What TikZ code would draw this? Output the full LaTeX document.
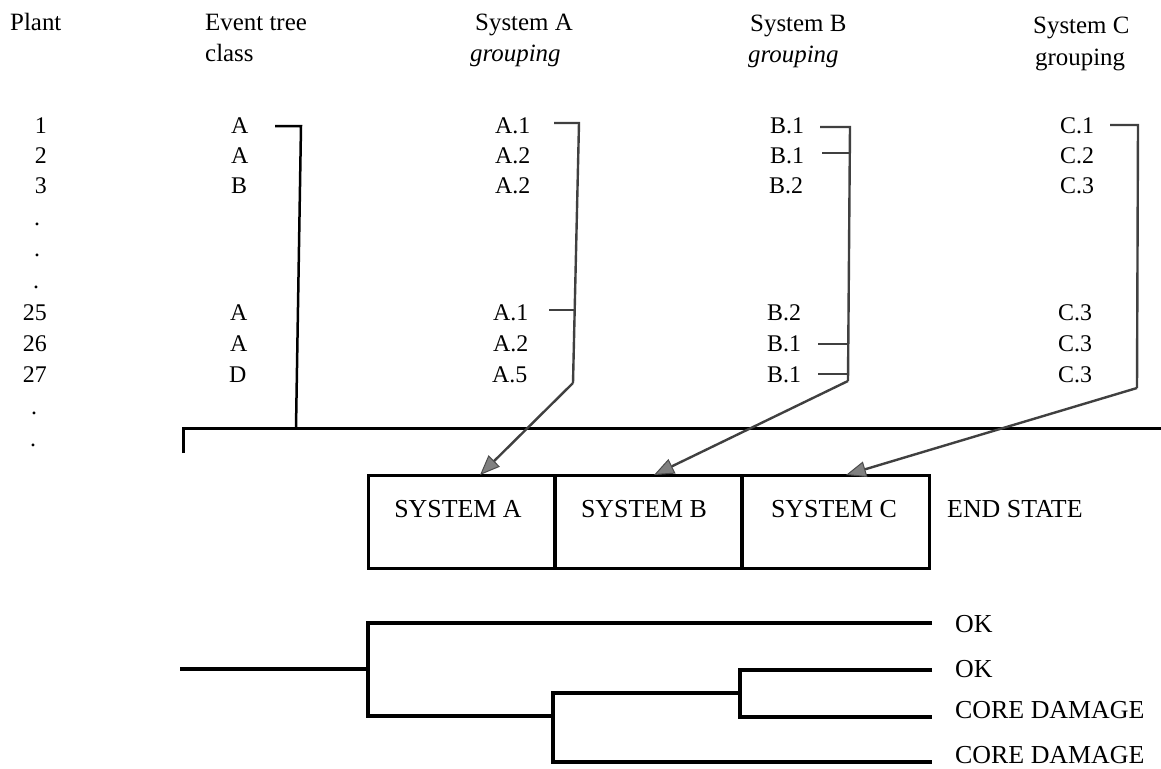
\documentclass[tikz,border=0pt]{standalone}
\usepackage{fontspec}
\setmainfont{Liberation Serif}
\usetikzlibrary{arrows.meta}
\begin{document}
\begin{tikzpicture}[x=1bp,y=-1bp,
  hd/.style={inner sep=0pt,anchor=base west,font=\fontsize{25}{29}\selectfont},
  num/.style={inner sep=0pt,anchor=base east,font=\fontsize{24}{28}\selectfont},
  cell/.style={inner sep=0pt,anchor=base west,font=\fontsize{24}{28}\selectfont},
  dotl/.style={inner sep=0pt,anchor=base,font=\fontsize{24}{28}\selectfont},
  sysbox/.style={draw,line width=3bp,minimum width=187bp,minimum height=93bp,inner sep=0pt},
  boxtxt/.style={inner sep=0pt,anchor=base,font=\fontsize{26}{30}\selectfont},
  endtxt/.style={inner sep=0pt,anchor=base west,font=\fontsize{26}{30}\selectfont},
  solidln/.style={line width=3bp,black},
  grp/.style={line width=2.4bp,black!75},
  grparrow/.style={grp,-{Triangle[length=20bp,width=16bp,fill=black!50,color=black!70,line width=1bp]}},
  treeln/.style={line width=3.2bp,black,line join=miter}]
\useasboundingbox (0,0) rectangle (1161,769);

% headers
\node[hd] (hplant) at (10,31) {Plant};
\node[hd] (hev1) at (205,31) {Event tree};
\node[hd] (hev2) at (205,62) {class};
\node[hd] (hsa1) at (475,31) {System A};
\node[hd] (hsa2) at (470,62) {\itshape grouping};
\node[hd] (hsb1) at (750,32) {System B};
\node[hd] (hsb2) at (748,63) {\itshape grouping};
\node[hd] (hsc1) at (1033,34) {System C};
\node[hd] (hsc2) at (1035,66) {grouping};

% plant numbers
\node[num] (p1) at (47,133) {1};
\node[num] (p2) at (47,163) {2};
\node[num] (p3) at (47,193) {3};
\node[dotl] (d1) at (37,225) {.};
\node[dotl] (d2) at (37,256) {.};
\node[dotl] (d3) at (36,288) {.};
\node[num] (p25) at (47,320) {25};
\node[num] (p26) at (47,351) {26};
\node[num] (p27) at (47,382) {27};
\node[dotl] (d4) at (34,414) {.};
\node[dotl] (d5) at (33,446) {.};

% event tree class
\node[cell] (c1) at (231,133) {A};
\node[cell] (c2) at (231,163) {A};
\node[cell] (c3) at (231,193) {B};
\node[cell] (c25) at (230,320) {A};
\node[cell] (c26) at (230,351) {A};
\node[cell] (c27) at (229,382) {D};

% system A grouping
\node[cell] (a1) at (495,133) {A.1};
\node[cell] (a2) at (495,163) {A.2};
\node[cell] (a3) at (495,193) {A.2};
\node[cell] (a25) at (493,320) {A.1};
\node[cell] (a26) at (493,351) {A.2};
\node[cell] (a27) at (492,382) {A.5};

% system B grouping
\node[cell] (b1) at (770,133) {B.1};
\node[cell] (b2) at (770,163) {B.1};
\node[cell] (b3) at (769,193) {B.2};
\node[cell] (b25) at (767,320) {B.2};
\node[cell] (b26) at (767,351) {B.1};
\node[cell] (b27) at (767,382) {B.1};

% system C grouping
\node[cell] (cc1) at (1060,133) {C.1};
\node[cell] (cc2) at (1060,163) {C.2};
\node[cell] (cc3) at (1060,193) {C.3};
\node[cell] (cc25) at (1058,320) {C.3};
\node[cell] (cc26) at (1058,351) {C.3};
\node[cell] (cc27) at (1058,382) {C.3};

% bus line
\coordinate (bus0) at (183,453);
\coordinate (bus1) at (183,428);
\coordinate (bus2) at (1161,428);
\draw[solidln,line join=miter] (bus0) -- (bus1) -- (bus2);

% event tree class bracket
\coordinate (ka0) at (275,126);
\coordinate (ka1) at (301,126);
\coordinate (ka2) at (296,428);
\draw[solidln,line width=2.5bp] (ka0) -- (ka1) -- (ka2);

% boxes
\node[sysbox] (sa) at (461.5,521.5) {};
\node[sysbox] (sb) at (648,521.5) {};
\node[sysbox] (sc) at (835.5,521.5) {};
\node[boxtxt] (lsa) at (458,517) {SYSTEM A};
\node[boxtxt] (lsb) at (644,517) {SYSTEM B};
\node[boxtxt] (lsc) at (834,517) {SYSTEM C};
\node[endtxt] (lend) at (947,517) {END STATE};

% arrow targets on box tops
\coordinate (ta) at (480,475);
\coordinate (tb) at (654,475);
\coordinate (tc) at (846,475);

% system A bracket
\coordinate (ga0) at (554,123);
\coordinate (ga1) at (579,123);
\coordinate (ga2) at (573,383);
\coordinate (ga3) at (549,310);
\coordinate (ga4) at (575,310);
\draw[grp] (ga0) -- (ga1) -- (ga2);
\draw[grp] (ga3) -- (ga4);
\draw[grparrow] (ga2) -- (ta);

% system B bracket
\coordinate (gb0) at (820,127);
\coordinate (gb1) at (850,127);
\coordinate (gb2) at (848,381);
\coordinate (gb3) at (822,153);
\coordinate (gb4) at (850,153);
\coordinate (gb5) at (818,344);
\coordinate (gb6) at (848,344);
\coordinate (gb7) at (818,374);
\coordinate (gb8) at (848,374);
\draw[grp] (gb0) -- (gb1) -- (gb2);
\draw[grp] (gb3) -- (gb4);
\draw[grp] (gb5) -- (gb6);
\draw[grp] (gb7) -- (gb8);
\draw[grparrow] (gb2) -- (tb);

% system C bracket
\coordinate (gc0) at (1110,125);
\coordinate (gc1) at (1138,125);
\coordinate (gc2) at (1137,388);
\draw[grp] (gc0) -- (gc1) -- (gc2);
\draw[grparrow] (gc2) -- (tc);

% event tree
\node[endtxt] (ok1) at (955,632) {OK};
\node[endtxt] (ok2) at (955,677) {OK};
\node[endtxt] (cd1) at (955,718) {CORE DAMAGE};
\node[endtxt] (cd2) at (955,763) {CORE DAMAGE};
\coordinate (root) at (180,669);
\coordinate (s1) at (368,669);
\coordinate (s1t) at (368,623);
\coordinate (s1b) at (368,716);
\coordinate (s2) at (553,716);
\coordinate (s2t) at (553,693);
\coordinate (s2b) at (553,762);
\coordinate (s3) at (740,693);
\coordinate (s3t) at (740,670);
\coordinate (s3b) at (740,717);
\coordinate (e1) at (932,623);
\coordinate (e2) at (932,670);
\coordinate (e3) at (932,717);
\coordinate (e4) at (932,762);
\draw[treeln] (root) -- (s1);
\draw[treeln] (e1) -- (s1t) -- (s1b) -- (s2);
\draw[treeln] (s3) -- (s2t) -- (s2b) -- (e4);
\draw[treeln] (e2) -- (s3t) -- (s3b) -- (e3);
\end{tikzpicture}
\end{document}
